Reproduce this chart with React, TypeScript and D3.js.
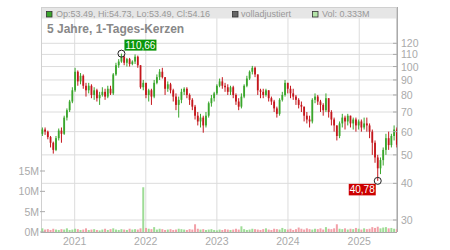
import React from "react";
import * as d3 from "d3";

// biweekly candles, first one starts 2020-07-13
const startDate = new Date(2020, 6, 13);
const firstOpen = 59;

const closes = [
  61, 60, 57.5, 55, 52, 57, 60.5, 59, 67, 71,
  76, 83, 96, 89, 93, 86, 83, 86, 80, 83,
  78, 80, 82, 79, 84, 81, 94, 101, 104, 108,
  103, 106, 102, 104, 108, 101, 85, 88, 80, 83,
  79, 88, 92, 96, 92, 84, 87, 83, 79, 74,
  77, 82, 84, 80, 77, 73, 68, 65, 67, 63,
  68, 75, 78, 81, 86, 89, 86, 85, 82, 85,
  80, 76, 73, 79, 86, 91, 96, 99, 94, 83,
  82, 80, 83, 78, 76, 72, 69, 77, 80, 88,
  84, 81, 79, 77, 74, 73, 68, 66, 65, 77,
  79, 76, 74, 71, 78, 70, 66, 63, 58, 64,
  67, 65, 68, 64, 66, 63, 65, 62, 64, 63,
  60, 55, 49, 45, 48, 52, 57, 54, 58, 61,
  54.16,
];

const highs = [
  62, 62, 60.5, 58, 55.5, 58, 61.5, 62, 68, 72,
  77, 85, 99, 97, 95, 94, 88, 88, 87, 85,
  84, 82, 85, 84, 86, 86, 95, 103, 106, 110.66,
  109, 107, 107, 105, 110, 109, 101, 90, 88, 84,
  84, 90, 94, 98, 99, 92, 89, 88, 84, 81,
  79, 84, 85, 85, 81, 78, 74, 70, 69, 68,
  70, 76, 80, 82, 87, 91, 92, 88, 87, 86,
  86, 81, 78, 81, 87, 93, 97, 100.5, 100, 94,
  84, 84, 84, 83, 79, 77, 73, 78, 82, 90,
  88, 86, 84, 80, 78, 76, 73, 70, 68, 78,
  81, 80, 77, 75, 81, 78, 71, 67, 63, 65,
  69, 68, 69, 68, 67, 67, 66, 66, 67, 67,
  64, 61, 56, 50, 49, 53, 59, 60, 59, 63,
  62,
];

const lows = [
  58, 58.5, 56.5, 53, 50.5, 51.5, 56, 55, 58.5, 65.5,
  70, 75, 82, 86, 87, 84, 79, 81, 78, 77,
  76, 74, 79, 77, 78, 80, 80, 93, 99, 103,
  101, 100, 100, 101, 102, 99, 84, 83, 78, 76,
  74, 78, 87, 90, 91, 80, 82, 81, 76, 71,
  67, 75, 80, 78, 74, 71, 66, 63, 62, 59.5,
  62, 67, 73, 76, 80, 85, 84, 82, 80, 80,
  78, 74, 71, 72, 78, 85, 90, 94, 92, 80,
  78, 78, 79, 76, 74, 70, 67, 68, 76, 79,
  81, 78, 77, 74, 72, 70, 65, 64, 62, 64,
  75, 74, 70, 68, 70, 67, 63, 60, 56, 57,
  62, 61, 63, 62, 61, 60, 61, 60, 61, 60,
  57, 50, 47, 40.78, 43, 46, 50, 52, 53, 56,
  53,
];

// volume in millions
const volumes = [
  0.9, 0.6, 0.7, 0.5, 0.8, 0.6, 0.5, 0.7, 0.6, 0.9,
  0.5, 0.6, 0.8, 0.7, 0.5, 0.6, 0.9, 0.5, 0.6, 0.7,
  0.5, 0.4, 0.6, 0.8, 0.5, 0.7, 0.9, 0.6, 0.5, 0.7,
  0.6, 0.5, 0.8, 0.6, 0.7, 0.6, 0.9, 11, 1.0, 0.8,
  0.7, 1.2, 0.6, 0.8, 0.7, 0.5, 0.6, 0.7, 0.5, 0.6,
  0.8, 0.7, 0.6, 0.5, 0.7, 0.6, 1.9, 0.8, 0.6, 0.7,
  0.5, 0.6, 0.7, 0.5, 0.4, 0.6, 0.5, 0.7, 0.6, 0.5,
  0.6, 0.8, 0.6, 1.4, 0.7, 0.5, 0.6, 0.8, 0.7, 0.6,
  0.5, 0.7, 0.9, 0.6, 0.5, 0.8, 0.7, 0.6, 1.0, 0.7,
  0.6, 0.8, 0.5, 0.7, 1.1, 0.8, 0.6, 0.9, 0.7, 0.6,
  0.8, 0.7, 0.9, 0.6, 1.2, 0.8, 0.7, 0.9, 1.9, 0.8,
  0.7, 0.9, 0.6, 0.8, 0.7, 1.0, 0.8, 0.6, 0.9, 0.7,
  0.8, 1.2, 1.0, 1.3, 0.9, 1.1, 1.2, 0.9, 1.0, 0.8,
  0.7,
];

const priceTicks = [30, 40, 50, 60, 70, 80, 90, 100, 110, 120];
const volumeTicks = [0, 5, 10, 15];
const yearTicks = [2021, 2022, 2023, 2024, 2025];
const maxLabel = "110,66";
const minLabel = "40,78";

const W = 450;
const H = 250;
const left = 41;
const right = 397;
const top = 7;
const bottom = 232;
const font = "Arial, 'Liberation Sans', sans-serif";
const green = "#3aa62c";
const red = "#c4161c";

export default function App() {
  const x = d3
    .scaleTime()
    .domain([new Date(2020, 6, 12), new Date(2025, 6, 19)])
    .range([left, right + 1]);
  const y = d3.scaleLog().domain([30, 120]).range([220, 43.3]);
  const yv = d3.scaleLinear().domain([0, 15]).range([bottom, 171]);

  const candles = closes.map((c, i) => {
    const open = i === 0 ? firstOpen : closes[i - 1];
    const date = d3.timeDay.offset(startDate, i * 14 + 6);
    return {
      date,
      open,
      close: c,
      high: Math.max(highs[i], open, c),
      low: Math.min(lows[i], open, c),
      vol: volumes[i],
    };
  });

  const hi = candles.reduce((a, b) => (b.high > a.high ? b : a));
  const lo = candles.reduce((a, b) => (b.low < a.low ? b : a));
  const hx = x(hi.date);
  const hy = y(hi.high);
  const lx = x(lo.date);
  const ly = y(lo.low);

  return (
    <svg
      width={W}
      height={H}
      style={{ position: "fixed", left: 0, top: 0, background: "#fff" }}
      fontFamily={font}
    >
      {/* grid */}
      {priceTicks.map((t) => (
        <line key={"h" + t} x1={left} x2={right} y1={y(t)} y2={y(t)} stroke="#dcdcdc" />
      ))}
      {yearTicks.map((yr) => (
        <line
          key={"v" + yr}
          x1={x(new Date(yr, 0, 1))}
          x2={x(new Date(yr, 0, 1))}
          y1={top}
          y2={bottom}
          stroke="#dcdcdc"
        />
      ))}
      {/* header band */}
      <rect x={left} y={top} width={right - left} height={11.5} fill="#e6e6e6" />
      <rect x={left + 0.5} y={top + 0.5} width={right - left - 1} height={bottom - top} fill="none" stroke="#d0d0d0" />

      {/* volume */}
      {candles.map((d, i) => (
        <rect
          key={"vol" + i}
          x={x(d.date) - 1}
          y={yv(d.vol)}
          width={2}
          height={bottom - yv(d.vol)}
          fill={d.close >= d.open ? "#9edc96" : "#f2a0a8"}
        />
      ))}

      {/* candles */}
      {candles.map((d, i) => {
        const cx = x(d.date);
        const col = d.close >= d.open ? green : red;
        const y0 = y(Math.max(d.open, d.close));
        const y1 = y(Math.min(d.open, d.close));
        return (
          <g key={"c" + i}>
            <line x1={cx} x2={cx} y1={y(d.high)} y2={y(d.low)} stroke={col} strokeWidth={1} />
            <rect x={cx - 0.9} y={y0} width={1.8} height={Math.max(1, y1 - y0)} fill={col} />
          </g>
        );
      })}

      {/* axes */}
      <line x1={right + 0.5} x2={right + 0.5} y1={top} y2={bottom} stroke="#aaa" />
      <line x1={left} x2={right} y1={bottom + 0.5} y2={bottom + 0.5} stroke="#aaa" />
      {priceTicks.map((t) => (
        <g key={"pt" + t}>
          <line x1={right - 4} x2={right} y1={y(t)} y2={y(t)} stroke="#aaa" />
          <text x={right + 4} y={y(t) + 4} fontSize={10.5} fill="#aaa">
            {t}
          </text>
        </g>
      ))}
      {volumeTicks.map((t) => (
        <g key={"vt" + t}>
          <line x1={left - 1} x2={left + 4} y1={yv(t)} y2={yv(t)} stroke="#aaa" />
          <text x={left - 2} y={yv(t) + 4} fontSize={10.5} fill="#aaa" textAnchor="end">
            {t + "M"}
          </text>
        </g>
      ))}
      {yearTicks.map((yr) => (
        <text
          key={"yl" + yr}
          x={x(new Date(yr, 0, 1))}
          y={245}
          fontSize={10.5}
          fill="#aaa"
          textAnchor="middle"
        >
          {yr}
        </text>
      ))}

      {/* legend */}
      <rect x={46.5} y={11.5} width={5.5} height={5.5} fill="#3aa62c" stroke="#333" strokeWidth={0.8} />
      <text x={56} y={17} fontSize={9} fill="#999">
        Op:53.49, Hi:54.73, Lo:53.49, Cl:54.16
      </text>
      <rect x={232.5} y={11.5} width={5.5} height={5.5} fill="#666" stroke="#333" strokeWidth={0.8} />
      <text x={241} y={17} fontSize={9} fill="#999">
        volladjustiert
      </text>
      <rect x={312.5} y={11.5} width={5.5} height={5.5} fill="#b4e4a8" stroke="#333" strokeWidth={0.8} />
      <text x={322} y={17} fontSize={9} fill="#999">
        Vol: 0.333M
      </text>
      <text x={47} y={33} fontSize={12} fontWeight="bold" fill="#888">
        5 Jahre, 1-Tages-Kerzen
      </text>

      {/* extremes */}
      <circle cx={hx} cy={hy} r={3.5} fill="none" stroke="#222" />
      <rect x={hx + 3} y={hy - 14} width={32} height={11} fill="#0a960a" />
      <text x={hx + 19} y={hy - 5} fontSize={10} fill="#fff" textAnchor="middle">
        {maxLabel}
      </text>
      <circle cx={lx} cy={ly} r={3.5} fill="none" stroke="#222" />
      <rect x={lx - 29} y={ly + 3} width={27} height={11.5} fill="#cc0000" />
      <text x={lx - 15.5} y={ly + 12.5} fontSize={10} fill="#fff" textAnchor="middle">
        {minLabel}
      </text>
    </svg>
  );
}
